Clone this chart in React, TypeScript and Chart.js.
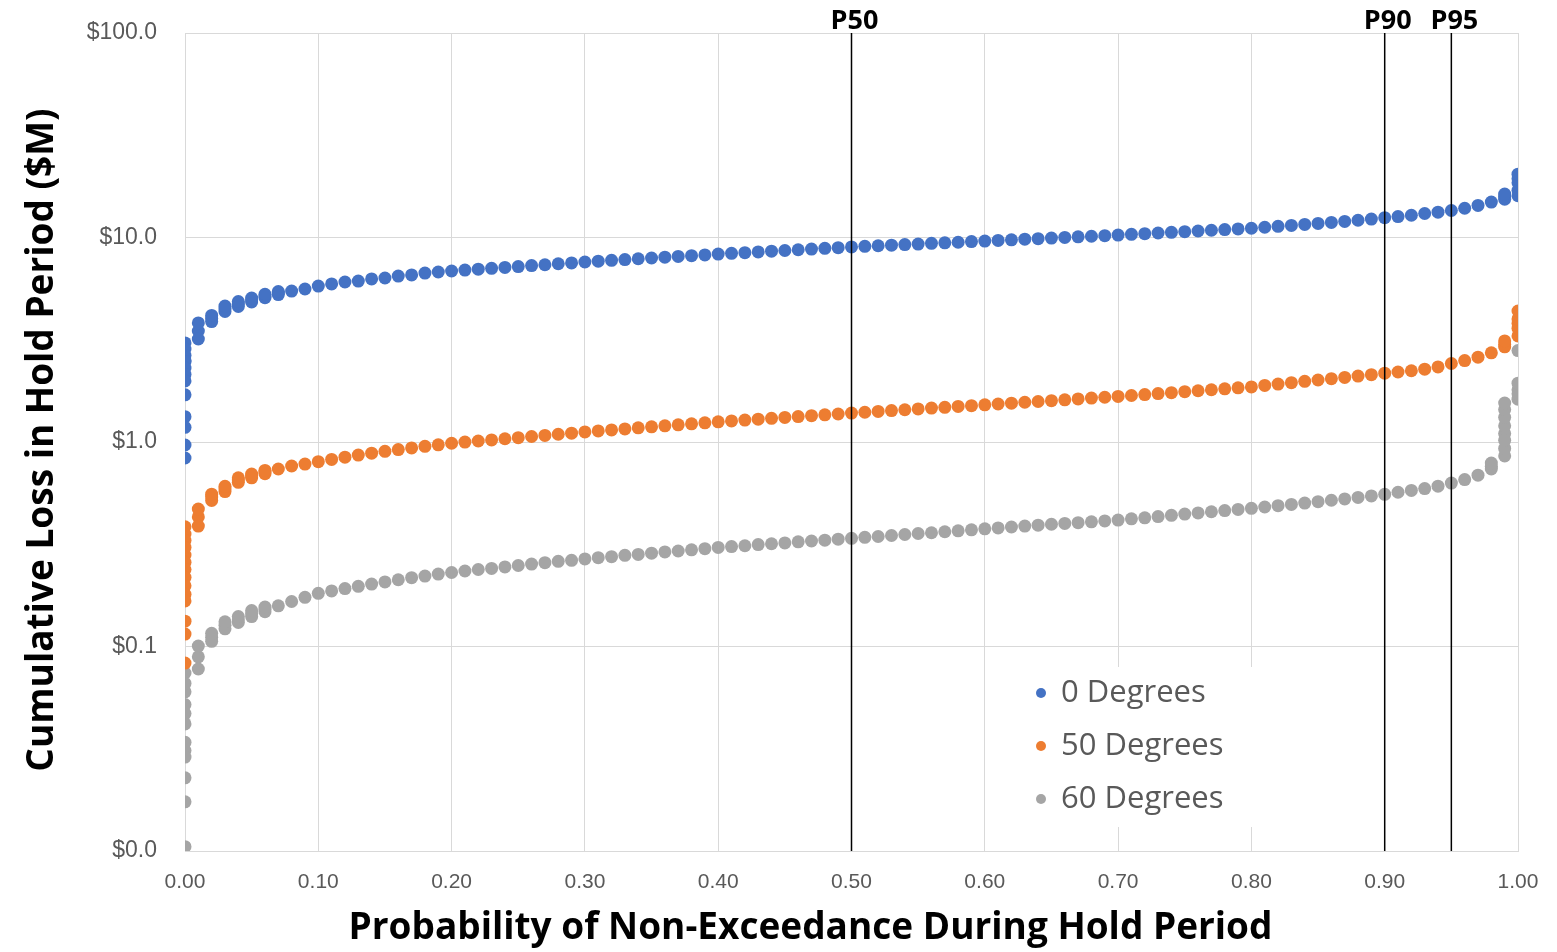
import React, { useEffect, useRef } from 'react';
import { Chart, registerables } from 'chart.js';
Chart.register(...registerables);

// Probability positions (x categories)
const probs = [
  0.00, 0.01, 0.02, 0.03, 0.04, 0.05, 0.06, 0.07, 0.08, 0.09,
  0.10, 0.11, 0.12, 0.13, 0.14, 0.15, 0.16, 0.17, 0.18, 0.19,
  0.20, 0.21, 0.22, 0.23, 0.24, 0.25, 0.26, 0.27, 0.28, 0.29,
  0.30, 0.31, 0.32, 0.33, 0.34, 0.35, 0.36, 0.37, 0.38, 0.39,
  0.40, 0.41, 0.42, 0.43, 0.44, 0.45, 0.46, 0.47, 0.48, 0.49,
  0.50, 0.51, 0.52, 0.53, 0.54, 0.55, 0.56, 0.57, 0.58, 0.59,
  0.60, 0.61, 0.62, 0.63, 0.64, 0.65, 0.66, 0.67, 0.68, 0.69,
  0.70, 0.71, 0.72, 0.73, 0.74, 0.75, 0.76, 0.77, 0.78, 0.79,
  0.80, 0.81, 0.82, 0.83, 0.84, 0.85, 0.86, 0.87, 0.88, 0.89,
  0.90, 0.91, 0.92, 0.93, 0.94, 0.95, 0.96, 0.97, 0.98, 0.99,
  1.00,
];

// 0 Degrees ($M)
const blueValues = [
  2.5, 3.49, 4.02, 4.5, 4.73, 4.95, 5.18, 5.35, 5.47, 5.60,
  5.79, 5.93, 6.06, 6.12, 6.27, 6.34, 6.48, 6.56, 6.70, 6.78,
  6.86, 6.93, 7.00, 7.07, 7.14, 7.21, 7.29, 7.36, 7.44, 7.51,
  7.59, 7.66, 7.73, 7.80, 7.87, 7.94, 8.01, 8.08, 8.15, 8.22,
  8.30, 8.37, 8.43, 8.50, 8.57, 8.64, 8.71, 8.78, 8.85, 8.92,
  8.99, 9.05, 9.11, 9.17, 9.23, 9.29, 9.36, 9.42, 9.48, 9.55,
  9.61, 9.68, 9.74, 9.81, 9.87, 9.94, 10.01, 10.08, 10.14, 10.21,
  10.28, 10.36, 10.44, 10.52, 10.60, 10.68, 10.76, 10.85, 10.93, 11.01,
  11.10, 11.22, 11.34, 11.46, 11.59, 11.72, 11.85, 11.99, 12.14, 12.30,
  12.50, 12.65, 12.85, 13.10, 13.30, 13.55, 13.90, 14.35, 14.90, 15.90,
  18.5,
];

// 50 Degrees ($M)
const orangeValues = [
  0.28, 0.43, 0.538, 0.589, 0.652, 0.682, 0.713, 0.738, 0.763, 0.780,
  0.801, 0.822, 0.843, 0.863, 0.882, 0.900, 0.918, 0.935, 0.952, 0.969,
  0.986, 0.999, 1.011, 1.024, 1.037, 1.050, 1.064, 1.077, 1.091, 1.105,
  1.12, 1.133, 1.146, 1.159, 1.173, 1.186, 1.200, 1.213, 1.227, 1.241,
  1.255, 1.268, 1.280, 1.293, 1.306, 1.319, 1.332, 1.345, 1.358, 1.371,
  1.385, 1.398, 1.411, 1.424, 1.438, 1.451, 1.465, 1.478, 1.492, 1.506,
  1.52, 1.534, 1.549, 1.564, 1.578, 1.593, 1.608, 1.624, 1.639, 1.655,
  1.67, 1.688, 1.706, 1.725, 1.743, 1.762, 1.781, 1.801, 1.820, 1.840,
  1.86, 1.89, 1.92, 1.95, 1.98, 2.01, 2.04, 2.07, 2.10, 2.135,
  2.17, 2.20, 2.23, 2.27, 2.33, 2.42, 2.50, 2.60, 2.73, 3.0,
  3.8,
];

// 60 Degrees ($M)
const grayValues = [
  0.06, 0.089, 0.111, 0.127, 0.135, 0.145, 0.152, 0.158, 0.166, 0.174,
  0.182, 0.187, 0.192, 0.197, 0.202, 0.207, 0.212, 0.217, 0.221, 0.226,
  0.230, 0.234, 0.238, 0.241, 0.245, 0.249, 0.253, 0.257, 0.261, 0.264,
  0.268, 0.272, 0.275, 0.279, 0.282, 0.286, 0.290, 0.293, 0.297, 0.301,
  0.305, 0.308, 0.311, 0.315, 0.318, 0.321, 0.325, 0.328, 0.331, 0.335,
  0.338, 0.342, 0.345, 0.349, 0.353, 0.357, 0.360, 0.364, 0.368, 0.372,
  0.376, 0.380, 0.384, 0.388, 0.392, 0.396, 0.400, 0.403, 0.407, 0.411,
  0.415, 0.421, 0.426, 0.432, 0.438, 0.444, 0.450, 0.456, 0.462, 0.468,
  0.474, 0.481, 0.488, 0.495, 0.503, 0.511, 0.519, 0.527, 0.536, 0.545,
  0.555, 0.568, 0.580, 0.592, 0.608, 0.630, 0.655, 0.688, 0.76, 1.1,
  1.8,
];

// Extra samples where many outcomes share one probability bin
const blueSpread: [number, number][] = [
  [0, 3.05], [0, 2.85], [0, 2.65], [0, 2.47], [0, 2.3], [0, 2.14], [0, 1.99],
  [0, 1.70], [0, 1.33], [0, 1.18], [0, 0.967], [0, 0.835],
  [0.01, 3.19], [0.01, 3.82],
  [0.02, 3.88], [0.02, 4.16], [0.03, 4.35], [0.03, 4.62],
  [0.04, 4.6], [0.04, 4.86], [0.05, 4.84], [0.05, 5.06], [0.06, 5.08], [0.06, 5.28],
  [0.07, 5.26], [0.07, 5.44],
  [0.99, 15.4], [0.99, 16.3],
  [1.0, 16.0], [1.0, 17.0], [1.0, 19.4], [1.0, 20.4],
];
const orangeSpread: [number, number][] = [
  [0, 0.385], [0, 0.355], [0, 0.33], [0, 0.305], [0, 0.258], [0, 0.238], [0, 0.218], [0, 0.198], [0, 0.18],
  [0, 0.167], [0, 0.133], [0, 0.115], [0, 0.083],
  [0.01, 0.388], [0.01, 0.47],
  [0.02, 0.518], [0.02, 0.556], [0.03, 0.572], [0.03, 0.607], [0.04, 0.635], [0.04, 0.668],
  [0.05, 0.668], [0.05, 0.697], [0.06, 0.70], [0.06, 0.726],
  [0.99, 2.92], [0.99, 3.12],
  [1.0, 3.30], [1.0, 3.6], [1.0, 4.0], [1.0, 4.37],
];
const graySpread: [number, number][] = [
  [0, 0.0742], [0, 0.066], [0, 0.052], [0, 0.047], [0, 0.0418],
  [0, 0.034], [0, 0.031], [0, 0.0288], [0, 0.0228], [0, 0.0174], [0, 0.0105],
  [0.01, 0.0776], [0.01, 0.1005],
  [0.02, 0.106], [0.02, 0.116],
  [0.03, 0.122], [0.03, 0.132], [0.04, 0.131], [0.04, 0.140], [0.05, 0.140], [0.05, 0.150],
  [0.06, 0.148], [0.06, 0.156],
  [0.98, 0.738], [0.98, 0.789],
  [0.99, 0.855], [0.99, 0.93], [0.99, 1.02], [0.99, 1.20], [0.99, 1.32], [0.99, 1.44], [0.99, 1.55],
  [1.0, 1.62], [1.0, 1.72], [1.0, 1.94], [1.0, 2.80],
];

const seriesLabels = ['0 Degrees', '50 Degrees', '60 Degrees'];
const seriesColors = ['#4472C4', '#ED7D31', '#A5A5A5'];

const markerProbs = [0.5, 0.9, 0.95];
const markerLabels = ['P50', 'P90', 'P95'];

const yTicks = [0.01, 0.1, 1, 10, 100];
const yMin = 0.01;
const yMax = 100;

const xTitle = 'Probability of Non-Exceedance During Hold Period';
const yTitle = 'Cumulative Loss in Hold Period ($M)';

const TITLE_FONT = 'bold 37px "Open Sans"';

function buildPoints(vals: number[], spread: [number, number][]) {
  const pts = probs.map((p, i) => ({ x: p, y: vals[i] }));
  spread.forEach(([x, y]) => pts.push({ x, y }));
  return pts;
}

const overlayPlugin = {
  id: 'overlay',
  afterDraw(chart: any) {
    const ctx = chart.ctx;
    const area = chart.chartArea;
    const xs = chart.scales.x;
    ctx.save();
    // marker labels
    ctx.fillStyle = '#000';
    ctx.font = 'bold 27px "Open Sans"';
    ctx.textAlign = 'center';
    ctx.textBaseline = 'alphabetic';
    markerProbs.forEach((p, i) => {
      ctx.fillText(markerLabels[i], xs.getPixelForValue(p) + 3, 29);
    });
    // axis titles
    ctx.font = TITLE_FONT;
    ctx.textBaseline = 'middle';
    ctx.fillText(xTitle, (area.left + area.right) / 2 - 41, 928);
    ctx.translate(42, (area.top + area.bottom) / 2 - 2);
    ctx.rotate(-Math.PI / 2);
    ctx.fillText(yTitle, 0, 0);
    ctx.restore();

    // legend
    ctx.save();
    const bx = area.left + 826;
    const by = area.top + 634;
    ctx.fillStyle = '#ffffff';
    ctx.fillRect(bx, by, 250, 160);
    ctx.font = '31px "Open Sans"';
    ctx.textAlign = 'left';
    ctx.textBaseline = 'middle';
    seriesLabels.forEach((lab, i) => {
      const cy = by + 26 + i * 53;
      ctx.beginPath();
      ctx.fillStyle = seriesColors[i];
      ctx.arc(bx + 30, cy, 5, 0, Math.PI * 2);
      ctx.fill();
      ctx.fillStyle = '#595959';
      ctx.fillText(lab, bx + 50, cy);
    });
    ctx.restore();
  },
};

export default function App() {
  const ref = useRef<HTMLCanvasElement>(null);
  useEffect(() => {
    if (!ref.current) return;
    const seriesVals = [blueValues, orangeValues, grayValues];
    const spreads = [blueSpread, orangeSpread, graySpread];
    const datasets: any[] = seriesLabels.map((lab, i) => ({
      label: lab,
      data: buildPoints(seriesVals[i], spreads[i]),
      backgroundColor: seriesColors[i],
      borderColor: seriesColors[i],
      borderWidth: 0,
      pointRadius: 6.5,
      pointHoverRadius: 6.5,
      order: i + 1,
    }));
    markerProbs.forEach((p, i) => {
      datasets.push({
        label: markerLabels[i],
        data: [{ x: p, y: yMin }, { x: p, y: yMax }],
        showLine: true,
        borderColor: '#000000',
        borderWidth: 1.5,
        pointRadius: 0,
        order: 0,
      });
    });
    const chart = new Chart(ref.current, {
      type: 'scatter',
      data: { datasets },
      options: {
        animation: false,
        responsive: true,
        maintainAspectRatio: false,
        layout: { padding: { top: 33, right: 39, left: 0, bottom: 0 } },
        plugins: {
          legend: { display: false },
          tooltip: { enabled: false },
          title: { display: false },
        },
        scales: {
          x: {
            type: 'linear',
            min: 0,
            max: 1,
            ticks: {
              stepSize: 0.1,
              padding: 19,
              color: '#595959',
              font: { family: '"Liberation Sans"', size: 21 },
              callback: (v: any) => Number(v).toFixed(2),
              maxRotation: 0,
            },
            grid: { color: '#d9d9d9', lineWidth: 1, drawTicks: false },
            border: { color: '#d9d9d9' },
            afterFit: (s: any) => { s.height = 101; s.paddingLeft = 0; s.paddingRight = 0; },
          },
          y: {
            type: 'logarithmic',
            min: yMin,
            max: yMax,
            afterBuildTicks: (s: any) => { s.ticks = yTicks.map((v) => ({ value: v })); },
            ticks: {
              padding: 28,
              color: '#595959',
              font: { family: '"Liberation Sans"', size: 23 },
              callback: (v: any) => '$' + Number(v).toFixed(1),
            },
            grid: { color: '#d9d9d9', lineWidth: 1, drawTicks: false },
            border: { color: '#d9d9d9' },
            afterFit: (s: any) => { s.width = 185; s.paddingTop = 0; s.paddingBottom = 0; },
          },
        },
      },
      plugins: [overlayPlugin],
    });
    return () => chart.destroy();
  }, []);
  return (
    <div style={{ position: 'fixed', left: 0, top: 0, width: 1557, height: 952, background: '#fff' }}>
      <canvas ref={ref} />
    </div>
  );
}
